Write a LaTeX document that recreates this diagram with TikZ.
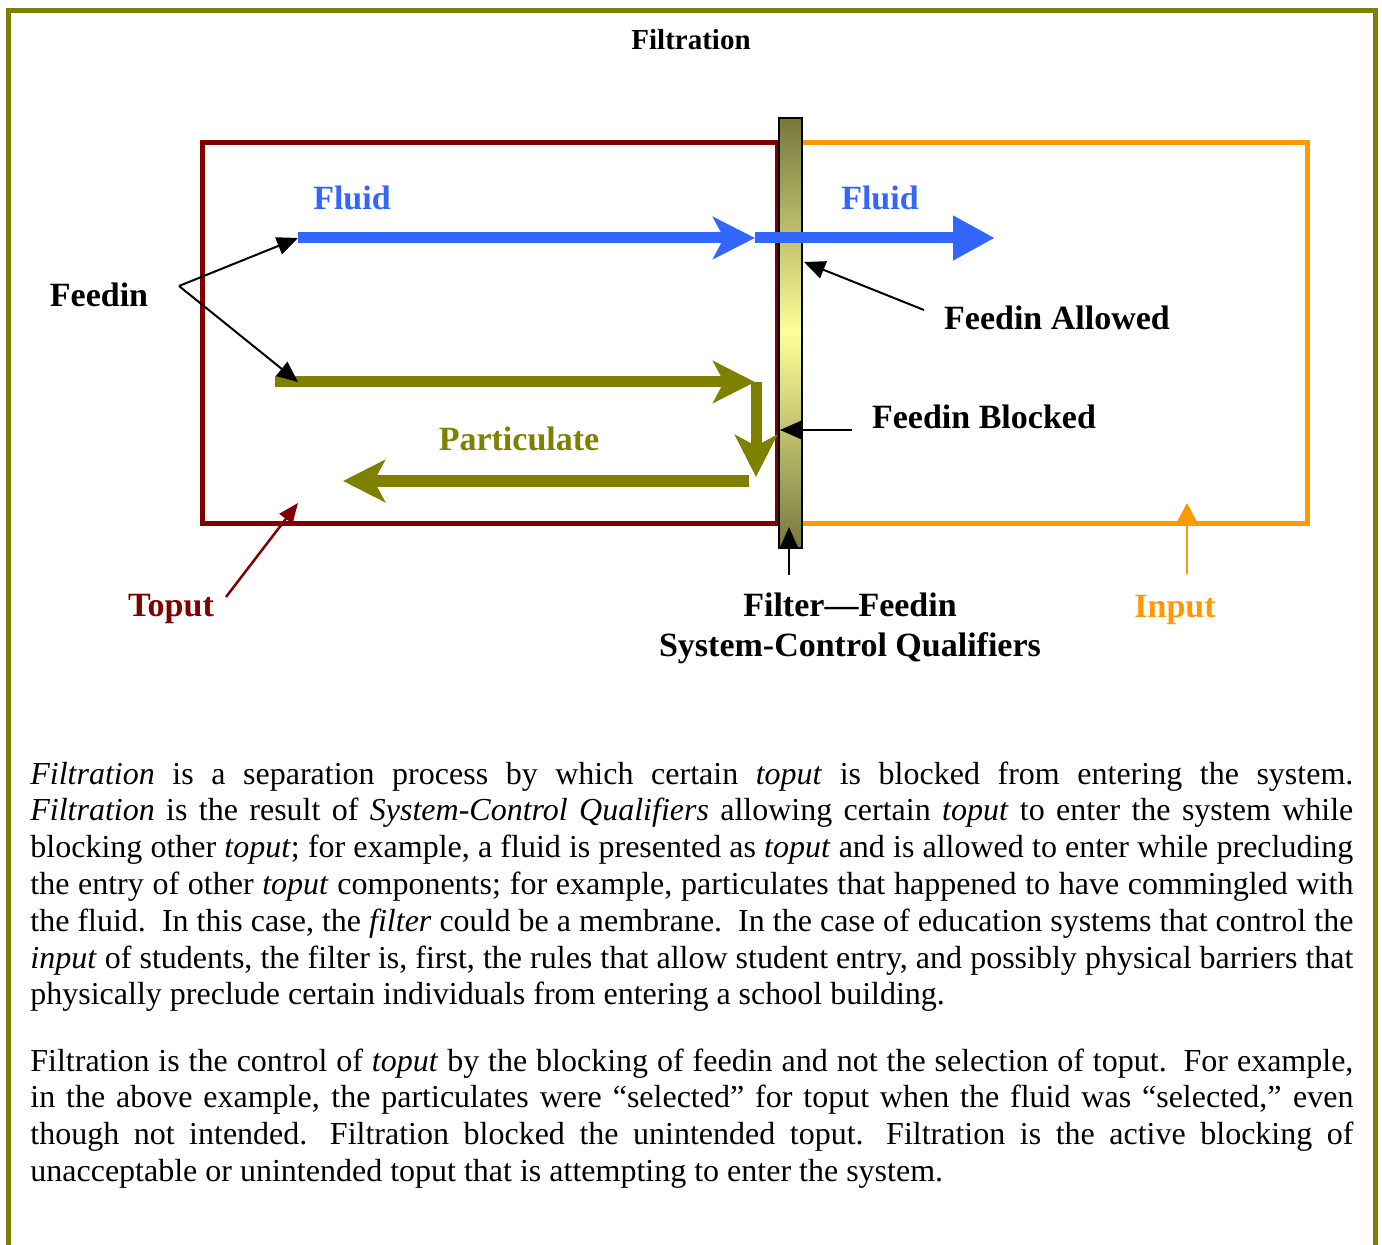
\documentclass[tikz,border=0pt]{standalone}
\usepackage{fontspec}
\setmainfont{Liberation Serif}
\usetikzlibrary{arrows.meta}
\definecolor{olivec}{HTML}{808000}
\definecolor{darkred}{HTML}{800000}
\definecolor{orangec}{HTML}{FF9900}
\definecolor{bluec}{HTML}{3366FF}
\definecolor{barolive}{HTML}{77773D}
\definecolor{barlight}{HTML}{FFFF99}
% one justified line of the running text, and a closing line set at natural width
\newcommand\fullline[1]{\hbox to \hsize{#1}}
\newcommand\lastline[1]{\hbox{#1}}
% a block of such lines, aligned on its first baseline
\newcommand\textblock[1]{\vtop{\hsize=661.5pt
  \spaceskip=0.25em plus 0.6em minus 0.12em
  \xspaceskip=0.5em plus 0.6em minus 0.2em
  #1}}
\begin{document}
\begin{tikzpicture}[x=0.5pt,y=-0.5pt,
  lbl/.style={font=\fontsize{17}{20}\selectfont\bfseries, inner sep=0, anchor=base},
  thinarrow/.style={line width=1pt, -{Triangle[length=10.5pt,width=9pt]}},
  notched/.style={-{Stealth[length=21pt,width=21pt,inset=5.5pt]}},
  solidtip/.style={-{Triangle[length=21pt,width=21pt]}},
  flow/.style={line width=5.5pt},
  body/.style={font=\fontsize{16}{18.4}\selectfont, inner sep=0, anchor=base west}
]
\useasboundingbox (0,0) rectangle (1382,1245);

% outer frame, open at the bottom
\draw[olivec, line width=2.5pt] (8,1260) -- (8,10.5) -- (1375.5,10.5) -- (1375.5,1260);

\node[font=\fontsize{14.5}{17}\selectfont\bfseries, anchor=base, inner sep=0] (title) at (691,50) {Filtration};

% the system (toput side) and the environment (input side)
\draw[darkred, line width=2.5pt] (202.5,143) rectangle (777,524);
\draw[orangec, line width=2.5pt] (802,143) -- (1307,143) -- (1307,524) -- (802,524);

% the filter
\node[draw=black, line width=0.6pt, minimum width=11.5pt, minimum height=215pt, inner sep=0,
      top color=barolive, bottom color=barolive, middle color=barlight] (filter) at (790.5,333) {};

% flow coordinates
\coordinate (fluidA) at (298,238);
\coordinate (fluidB) at (755,238);
\coordinate (fluidC) at (995,238);
\coordinate (partA) at (275,382);
\coordinate (partTip) at (298,382);
\coordinate (partB) at (755,382);
\coordinate (partC) at (756,382);
\coordinate (partD) at (756,477);
\coordinate (partE) at (749,481);
\coordinate (partF) at (343,481);

% fluid passes through the filter
\draw[bluec, flow, notched] (fluidA) -- (fluidB);
\draw[bluec, flow, solidtip] (fluidB) -- (fluidC);

% particulate is turned back
\draw[olivec, flow, notched] (partA) -- (partB);
\draw[olivec, flow, notched] (partC) -- (partD);
\draw[olivec, line width=6pt, notched] (partE) -- (partF);

% labels
\node[lbl, text=bluec] (fluidL) at (352,210) {Fluid};
\node[lbl, text=bluec] (fluidR) at (880,210) {Fluid};
\node[lbl] (feedin) at (99,307) {Feedin};
\node[lbl] (allowed) at (1057,330) {Feedin Allowed};
\node[lbl] (blocked) at (984,429) {Feedin Blocked};
\node[lbl, text=olivec] (partic) at (519,451) {Particulate};
\node[lbl, text=darkred] (toput) at (171,617) {Toput};
\node[lbl] (fq1) at (850,617) {Filter—Feedin};
\node[lbl] (fq2) at (850,657) {System-Control Qualifiers};
\node[lbl, text=orangec] (input) at (1175,618) {Input};

% pointers
\coordinate (fork) at (179,286);
\draw[thinarrow] (fork) -- (fluidA);
\draw[thinarrow] (fork) -- (partTip);
\coordinate (allowS) at (924,310);
\coordinate (allowT) at (804,262);
\draw[thinarrow] (allowS) -- (allowT);
\coordinate (blockS) at (852,430);
\coordinate (blockT) at (780,430);
\draw[thinarrow] (blockS) -- (blockT);
\coordinate (qualS) at (789,575);
\coordinate (qualT) at (789,527);
\draw[thinarrow] (qualS) -- (qualT);
\coordinate (toputS) at (226,597);
\coordinate (toputT) at (298,503);
\draw[darkred, line width=1.25pt, -{Triangle[length=10pt,width=8pt]}] (toputS) -- (toputT);
\coordinate (inputS) at (1187,574);
\coordinate (inputT) at (1187,503);
\draw[orangec, line width=0.8pt, -{Triangle[length=10pt,width=10.5pt]}] (inputS) -- (inputT);

% running text
\node[body] (para1) at (30,784) {\textblock{%
\fullline{\textit{Filtration} is a separation process by which certain \textit{toput} is blocked from entering the system.}
\fullline{\textit{Filtration} is the result of \textit{System-Control Qualifiers} allowing certain \textit{toput} to enter the system while}
\fullline{blocking other \textit{toput}; for example, a fluid is presented as \textit{toput} and is allowed to enter while precluding}
\fullline{the entry of other \textit{toput} components; for example, particulates that happened to have commingled with}
\fullline{the fluid.  In this case, the \textit{filter} could be a membrane.  In the case of education systems that control the}
\fullline{\textit{input} of students, the filter is, first, the rules that allow student entry, and possibly physical barriers that}
\lastline{physically preclude certain individuals from entering a school building.}}};

\node[body] (para2) at (30,1071) {\textblock{%
\fullline{Filtration is the control of \textit{toput} by the blocking of feedin and not the selection of toput.  For example,}
\fullline{in the above example, the particulates were “selected” for toput when the fluid was “selected,” even}
\fullline{though not intended.  Filtration blocked the unintended toput.  Filtration is the active blocking of}
\lastline{unacceptable or unintended toput that is attempting to enter the system.}}};
\end{tikzpicture}
\end{document}
